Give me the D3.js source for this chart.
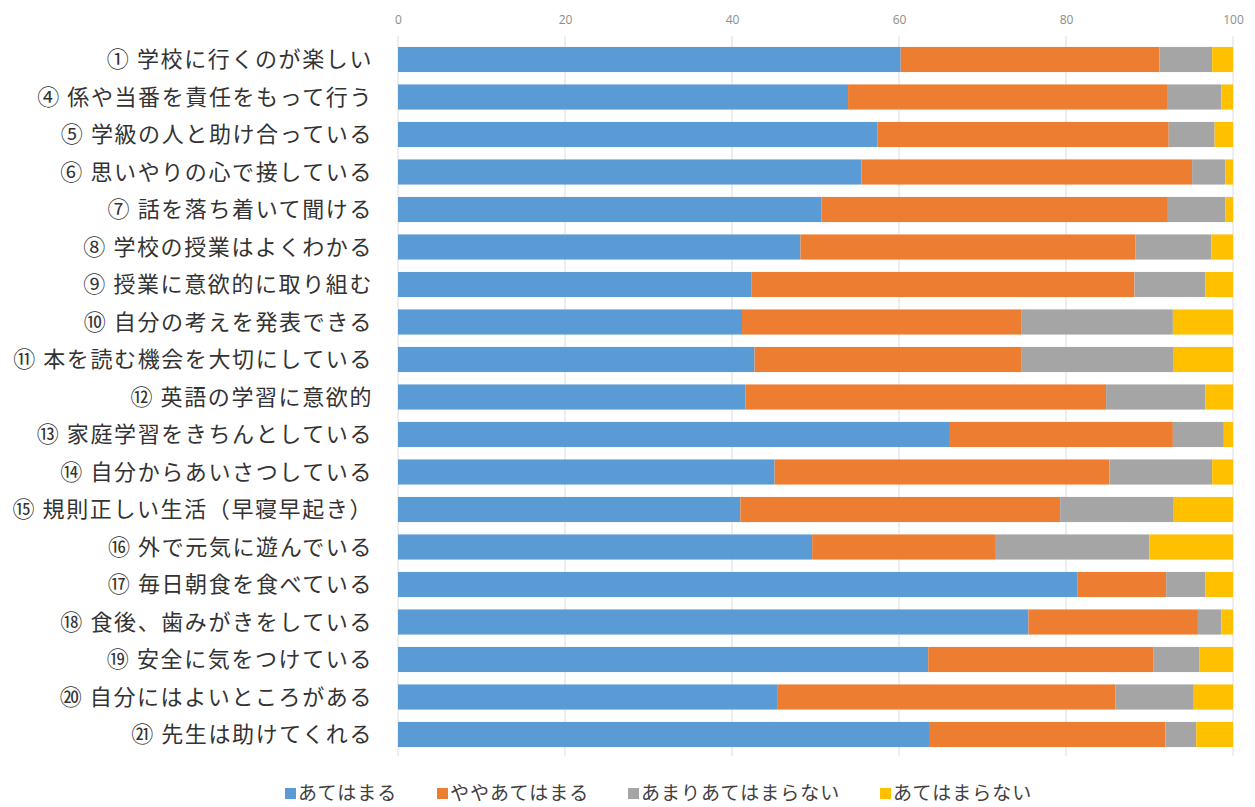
<!DOCTYPE html>
<html>
<head>
<meta charset="utf-8">
<script src="https://cdn.jsdelivr.net/npm/d3@7"></script>
<style>
  body { margin: 0; background: #fff; }
  svg { font-family: "Noto Sans CJK JP", "Noto Sans", sans-serif; }
</style>
</head>
<body>
<script>
const categories = [
    "① 学校に行くのが楽しい",
    "④ 係や当番を責任をもって行う",
    "⑤ 学級の人と助け合っている",
    "⑥ 思いやりの心で接している",
    "⑦ 話を落ち着いて聞ける",
    "⑧ 学校の授業はよくわかる",
    "⑨ 授業に意欲的に取り組む",
    "⑩ 自分の考えを発表できる",
    "⑪ 本を読む機会を大切にしている",
    "⑫ 英語の学習に意欲的",
    "⑬ 家庭学習をきちんとしている",
    "⑭ 自分からあいさつしている",
    "⑮ 規則正しい生活（早寝早起き）",
    "⑯ 外で元気に遊んでいる",
    "⑰ 毎日朝食を食べている",
    "⑱ 食後、歯みがきをしている",
    "⑲ 安全に気をつけている",
    "⑳ 自分にはよいところがある",
    "㉑ 先生は助けてくれる",
]
const series_names = ["あてはまる", "ややあてはまる", "あまりあてはまらない", "あてはまらない"]
const colors = ["#5B9BD5", "#ED7D31", "#A5A5A5", "#FFC000"]

const fit = [60.2, 53.9, 57.4, 55.5, 50.7, 48.2, 42.3, 41.2, 42.7, 41.6, 66.1, 45.1, 41.0, 49.6, 81.4, 75.5, 63.5, 45.4, 63.7]
const rather_fit = [31.0, 38.2, 34.9, 39.6, 41.5, 40.1, 45.9, 33.5, 32.0, 43.2, 26.7, 40.1, 38.3, 21.9, 10.6, 20.3, 27.0, 40.5, 28.2]
const rather_not = [6.3, 6.5, 5.5, 4.0, 6.9, 9.1, 8.5, 18.1, 18.2, 11.9, 6.1, 12.3, 13.6, 18.5, 4.7, 2.8, 5.5, 9.4, 3.7]
const not_fit = [2.5, 1.4, 2.2, 0.9, 0.9, 2.6, 3.3, 7.2, 7.1, 3.3, 1.1, 2.5, 7.1, 10.0, 3.3, 1.4, 4.0, 4.7, 4.4]
const x_ticks = [0, 20, 40, 60, 80, 100]

const rows = categories.map((c, i) => ({
    cat: c,
    s0: fit[i], s1: rather_fit[i], s2: rather_not[i], s3: not_fit[i],
}))
const stack = d3.stack().keys(["s0", "s1", "s2", "s3"])(rows)

const svg = d3.select("body").append("svg")
    .attr("width", 1255)
    .attr("height", 807)

const x = d3.scaleLinear().domain([0, 100]).range([398, 1233])
const y = d3.scaleBand().domain(categories).range([40.75, 753.25])
    .paddingInner(0.33).paddingOuter(0.165)

// gridlines
svg.append("g")
    .selectAll("line")
    .data(x_ticks)
    .join("line")
    .attr("x1", (d) => x(d)).attr("x2", (d) => x(d))
    .attr("y1", 36).attr("y2", 756)
    .attr("stroke", "#dcdcdc")
    .attr("stroke-width", 1)

// top axis labels
const axis_x = d3.axisTop(x).tickValues(x_ticks).tickSize(0).tickPadding(0)
svg.append("g")
    .attr("transform", "translate(0, 24)")
    .call(axis_x)
    .call((g) => g.select(".domain").remove())
    .call((g) => g.selectAll("text")
        .attr("fill", "#8c8c8c")
        .attr("font-size", 12)
        .attr("font-family", "'Open Sans', sans-serif"))

// bars
stack.forEach((layer, k) => {
    svg.append("g")
        .attr("fill", colors[k])
        .selectAll("rect")
        .data(layer)
        .join("rect")
        .attr("x", (d) => x(d[0]))
        .attr("width", (d) => x(d[1]) - x(d[0]))
        .attr("y", (d) => y(d.data.cat))
        .attr("height", y.bandwidth())
})

// category labels
svg.append("g")
    .selectAll("text")
    .data(categories)
    .join("text")
    .attr("x", 373)
    .attr("y", (d) => y(d) + y.bandwidth() / 2)
    .attr("dy", "0.36em")
    .attr("text-anchor", "end")
    .attr("font-size", 22)
    .attr("letter-spacing", 1.6)
    .attr("fill", "#333")
    .text((d) => d)

// legend
const legend_x = [285, 437, 628, 880]
const legend = svg.append("g")
series_names.forEach((name, k) => {
    legend.append("rect")
        .attr("x", legend_x[k])
        .attr("y", 788)
        .attr("width", 11)
        .attr("height", 11)
        .attr("fill", colors[k])
    legend.append("text")
        .attr("x", legend_x[k] + 13)
        .attr("y", 793)
        .attr("dy", "0.36em")
        .attr("font-size", 19)
        .attr("letter-spacing", 1)
        .attr("fill", "#404040")
        .text(name)
})
</script>
</body>
</html>
